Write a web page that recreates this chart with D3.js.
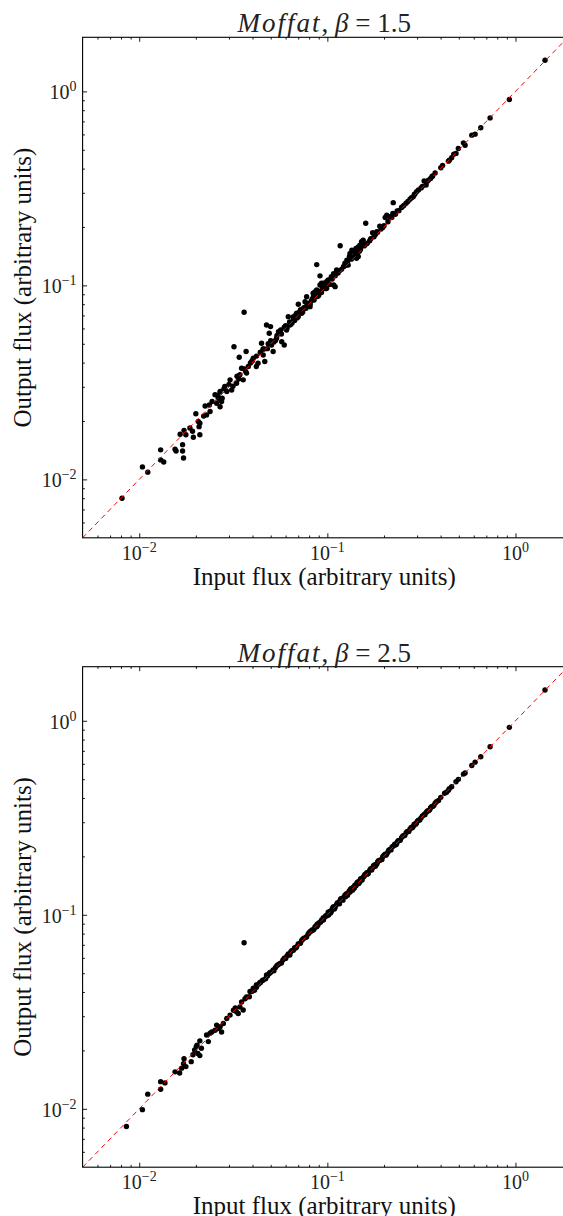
<!DOCTYPE html>
<html><head><meta charset="utf-8">
<script src="https://cdn.jsdelivr.net/npm/d3@7"></script>
<style>html,body{margin:0;padding:0;background:#fff;overflow:hidden}</style>
</head><body>
<svg id="c" width="563" height="1216"></svg>
<script>
// ---------------- DATA ----------------
const titleBetas = ["1.5", "2.5"];
const xLabel = "Input flux (arbitrary units)";
const yLabel = "Output flux (arbitrary units)";
const axisDomain = [0.005, 1.9];
const majorTickExponents = [-2, -1, 0];

// [input flux, output flux]  — Moffat beta = 1.5
const pointsBeta15 = [
  [0.0081,0.0080],[0.0104,0.0116],[0.0111,0.0109],[0.0130,0.0142],[0.0130,0.0126],[0.0135,0.0123],
  [0.0155,0.0143],[0.0157,0.0140],[0.0165,0.0171],[0.0170,0.0151],[0.0170,0.0140],[0.0172,0.0129],
  [0.0173,0.0179],[0.0177,0.0170],[0.0186,0.0184],[0.0192,0.0177],[0.0194,0.0165],[0.0200,0.0218],
  [0.0206,0.0199],[0.0210,0.0195],[0.0210,0.0170],[0.0208,0.0187],[0.0224,0.0239],[0.0228,0.0215],
  [0.0236,0.0242],[0.0238,0.0224],[0.0253,0.0273],[0.0258,0.0247],[0.0263,0.0262],[0.0269,0.0237],
  [0.0274,0.0252],[0.0269,0.0284],[0.0285,0.0301],[0.0292,0.0284],[0.0304,0.0326],[0.0310,0.0289],
  [0.0319,0.0483],[0.0329,0.0313],[0.0340,0.0426],[0.0343,0.0346],[0.0350,0.0374],[0.0361,0.0727],
  [0.0370,0.0456],[0.0357,0.0326],[0.0372,0.0353],[0.0380,0.0382],[0.0396,0.0405],[0.0404,0.0421],
  [0.0419,0.0382],[0.0428,0.0397],[0.0447,0.0503],[0.0456,0.0438],[0.0465,0.0405],[0.0475,0.0625],
  [0.0499,0.0613],[0.0491,0.0567],[0.0505,0.0493],[0.0515,0.0456],[0.0537,0.0534],[0.0560,0.0567],
  [0.0572,0.0513],[0.0590,0.0493],[0.0620,0.0690],[0.0632,0.0625],[0.0607,0.0589],[0.0660,0.0663],
  [0.0687,0.0718],[0.0701,0.0799],[0.0730,0.0747],[0.0761,0.0824],[0.0776,0.0875],[0.0809,0.0777],
  [0.0842,0.0911],[0.0878,0.0947],[0.0914,0.1005],[0.0953,0.1025],[0.0992,0.0966],
  [0.0220,0.0212],[0.0244,0.0252],[0.0262,0.0272],[0.0276,0.0262],[0.0282,0.0293],[0.0300,0.0309],
  [0.0315,0.0302],[0.0331,0.0340],[0.0338,0.0329],[0.0362,0.0371],[0.0368,0.0360],[0.0390,0.0398],
  [0.0400,0.0410],[0.0420,0.0432],[0.0440,0.0452],[0.0460,0.0470],[0.0480,0.0472],[0.0500,0.0518],
  [0.0520,0.0510],[0.0540,0.0552],[0.0550,0.0578],[0.0570,0.0562],[0.0590,0.0608],[0.0610,0.0602],
  [0.0630,0.0648],[0.0650,0.0641],[0.0670,0.0660],[0.0680,0.0706],[0.0700,0.0690],[0.0710,0.0728],
  [0.0730,0.0718],[0.0750,0.0768],[0.0770,0.0762],[0.0790,0.0808],[0.0810,0.0800],[0.0830,0.0848],
  [0.0850,0.0840],[0.0870,0.0888],[0.0890,0.0880],[0.0910,0.0928],[0.0930,0.0920],[0.0960,0.0972],
  [0.0980,0.0962],[0.1000,0.1018],[0.1030,0.1012],[0.1060,0.1078],[0.1140,0.1158],[0.1190,0.1210],
  [0.1250,0.1268],[0.1290,0.1272],[0.1340,0.1365],[0.1400,0.1418],[0.1440,0.1460],[0.1480,0.1498],
  [0.1570,0.1598],[0.1630,0.1648],[0.1680,0.1700],[0.1850,0.1878],[0.1930,0.1950],[0.2000,0.2028],
  [0.2100,0.2128],[0.2300,0.2328],[0.2400,0.2428],[0.2550,0.2580],[0.2680,0.2708],[0.2800,0.2830],
  [0.3150,0.3180],[0.3400,0.3440],
  [0.0455,0.0470],[0.0485,0.0500],[0.0530,0.0520],[0.0565,0.0590],[0.0600,0.0620],[0.0640,0.0630],
  [0.0660,0.0690],[0.0690,0.0680],[0.0720,0.0750],[0.0740,0.0730],[0.0780,0.0800],[0.0820,0.0830],
  [0.0860,0.0880],[0.0900,0.0890],[0.0940,0.0960],[0.0970,0.1000],[0.1050,0.1090],[0.1100,0.1120],
  [0.1160,0.1190],[0.1220,0.1250],[0.1280,0.1310],[0.1360,0.1390],[0.1420,0.1450],[0.1500,0.1530],
  [0.1600,0.1630],[0.1700,0.1740],[0.1800,0.1830],[0.1950,0.1990],[0.2200,0.2240],[0.2500,0.2540],
  [0.2900,0.2940],[0.3200,0.3240],[0.3600,0.3640],[0.4100,0.4150],[0.4700,0.4740],
  [1.436,1.448],[0.928,0.908],[0.733,0.730],[0.654,0.649],[0.610,0.602],[0.586,0.595],[0.529,0.543],
  [0.540,0.528],[0.497,0.508],[0.483,0.479],[0.458,0.455],[0.445,0.442],[0.440,0.437],[0.401,0.404],
  [0.374,0.380],[0.363,0.366],[0.354,0.356],[0.345,0.349],[0.327,0.345],[0.335,0.329],[0.305,0.310],
  [0.298,0.304],[0.292,0.296],[0.286,0.286],[0.275,0.278],[0.262,0.265],[0.248,0.252],[0.235,0.242],
  [0.224,0.267],[0.223,0.235],[0.215,0.226],[0.203,0.224],[0.207,0.230],[0.197,0.199],[0.190,0.202],
  [0.183,0.189],[0.179,0.184],[0.174,0.187],[0.177,0.178],[0.160,0.209],[0.155,0.171],[0.152,0.168],
  [0.149,0.161],[0.146,0.158],[0.142,0.155],[0.138,0.149],[0.135,0.152],[0.132,0.146],[0.131,0.141],
  [0.127,0.135],[0.124,0.130],[0.122,0.125],[0.117,0.160],[0.146,0.141],[0.143,0.138],[0.112,0.120],
  [0.108,0.115],[0.105,0.111],[0.110,0.113],[0.0878,0.128],[0.0914,0.112],[0.0931,0.1025],
  [0.0950,0.0985],[0.0990,0.1045],[0.101,0.1066],[0.108,0.1005],[0.110,0.0985],[0.0862,0.0928],
  [0.0843,0.0911],[0.0878,0.0875],[0.0843,0.0875]
];

// [input flux, output flux]  — Moffat beta = 2.5
const pointsBeta25 = [
  [0.00855,0.0081],[0.0104,0.0099],[0.0111,0.0119],[0.0130,0.0138],[0.0137,0.0136],[0.0130,0.0126],
  [0.0155,0.0155],[0.0164,0.0153],[0.0168,0.0162],[0.0173,0.0181],[0.0172,0.0171],[0.0177,0.0165],
  [0.0189,0.0175],[0.0193,0.0190],[0.0197,0.0201],[0.0201,0.0209],[0.0205,0.0193],[0.0210,0.0188],
  [0.0203,0.0213],[0.0210,0.0224],[0.0214,0.0205],[0.0228,0.0240],[0.0233,0.0222],[0.0238,0.0245],
  [0.0243,0.0249],[0.0253,0.0254],[0.0258,0.0270],[0.0263,0.0259],[0.0274,0.0249],[0.0269,0.0265],
  [0.0280,0.0275],[0.0292,0.0292],[0.0304,0.0304],[0.0317,0.0322],[0.0324,0.0331],[0.0329,0.0316],
  [0.0336,0.0310],[0.0343,0.0335],[0.0357,0.0323],[0.0350,0.0355],[0.0365,0.0369],[0.0372,0.0377],
  [0.0361,0.0717],[0.0388,0.0402],[0.0404,0.0418],[0.0419,0.0435],[0.0437,0.0447],[0.0456,0.0461],
  [0.0475,0.0489],[0.0494,0.0503],[0.0515,0.0519],[0.0560,0.0562],[0.0580,0.0584],[0.0632,0.0620],
  [0.0687,0.0685],[0.0713,0.0712],[0.0776,0.0771],[0.0842,0.0834],[0.0878,0.0868],[0.0953,0.0939],
  [0.1015,0.0998],
  [0.0400,0.0405],[0.0420,0.0423],[0.0440,0.0446],[0.0480,0.0484],[0.0500,0.0506],[0.0530,0.0535],
  [0.0550,0.0554],[0.0590,0.0597],[0.0610,0.0614],[0.0650,0.0655],[0.0670,0.0676],[0.0700,0.0707],
  [0.0730,0.0737],[0.0750,0.0757],[0.0800,0.0808],[0.0820,0.0826],[0.0860,0.0868],[0.0900,0.0907],
  [0.0930,0.0938],[0.0980,0.0988],[0.0600,0.0596],[0.0640,0.0645],[0.0660,0.0657],[0.0720,0.0716],
  [0.0790,0.0795],[0.0830,0.0836],[0.0890,0.0884],[0.0960,0.0966],
  [0.0450,0.0457],[0.0470,0.0468],[0.0490,0.0496],[0.0520,0.0515],[0.0540,0.0548],[0.0570,0.0565],
  [0.0620,0.0628],[0.0680,0.0675],[0.0740,0.0748],[0.0770,0.0765],[0.0810,0.0818],[0.0850,0.0845],
  [0.0880,0.0892],[0.0920,0.0915],[0.0950,0.0962],[0.0990,0.0985],[0.0385,0.0378],[0.0395,0.0402],
  [0.0410,0.0408],[0.0430,0.0438],
  [0.101,0.103],[0.104,0.102],[0.107,0.109],[0.109,0.107],[0.113,0.115],[0.116,0.114],[0.118,0.121],
  [0.121,0.119],[0.126,0.128],[0.128,0.126],[0.133,0.136],[0.136,0.134],[0.139,0.137],[0.144,0.147],
  [0.147,0.145],[0.150,0.153],[0.153,0.151],[0.158,0.161],[0.162,0.165],[0.165,0.163],[0.170,0.173],
  [0.172,0.170],[0.176,0.179],[0.180,0.178],[0.187,0.190],[0.195,0.193],[0.200,0.203],[0.205,0.203],
  [0.212,0.215],[0.218,0.216],[0.221,0.224],[0.228,0.231],[0.233,0.231],[0.238,0.241],[0.244,0.242],
  [0.252,0.255],[0.258,0.256],[0.265,0.268],[0.271,0.269],[0.279,0.282],[0.283,0.281],[0.289,0.292],
  [0.295,0.293],[0.301,0.304],[0.310,0.308],[0.320,0.323],[0.330,0.328],[0.340,0.343],[0.350,0.348],
  [0.358,0.361],[0.368,0.366],[0.380,0.383],[0.390,0.388],[0.420,0.423],[0.430,0.428],
  [1.436,1.440],[0.928,0.925],[0.733,0.735],[0.654,0.652],[0.610,0.612],[0.586,0.588],[0.540,0.538],
  [0.529,0.531],[0.497,0.499],[0.483,0.485],[0.458,0.457],[0.445,0.447],[0.440,0.438],[0.401,0.403],
  [0.374,0.376],[0.363,0.362],[0.354,0.356],[0.345,0.344],[0.335,0.337],[0.327,0.329],[0.315,0.316],
  [0.305,0.307],[0.298,0.297],[0.292,0.294],[0.286,0.285],[0.275,0.277],[0.268,0.269],[0.262,0.264],
  [0.255,0.256],[0.248,0.250],[0.240,0.241],[0.235,0.237],[0.230,0.229],[0.224,0.226],[0.215,0.217],
  [0.210,0.211],[0.207,0.206],[0.203,0.205],[0.197,0.199],[0.193,0.192],[0.190,0.191],[0.185,0.187],
  [0.183,0.182],[0.179,0.181],[0.177,0.178],[0.174,0.175],[0.168,0.170],[0.163,0.162],[0.160,0.162],
  [0.157,0.158],[0.155,0.156],[0.152,0.154],[0.149,0.148],[0.146,0.148],[0.143,0.144],[0.142,0.141],
  [0.140,0.142],[0.138,0.139],[0.135,0.137],[0.132,0.131],[0.131,0.133],[0.129,0.130],[0.127,0.128],
  [0.125,0.124],[0.124,0.126],[0.122,0.123],[0.119,0.120],[0.117,0.119],[0.114,0.115],[0.112,0.113],
  [0.110,0.109],[0.108,0.110],[0.106,0.107],[0.105,0.104],[0.103,0.104]
];

// ---------------- LAYOUT ----------------
const FONT = '"Liberation Serif", "DejaVu Serif", serif';
const svg = d3.select("#c");
const left = 82.6, plotW = 485.3, plotH = 500.5;
const panels = [
  { top: 37.3, data: pointsBeta15, beta: titleBetas[0] },
  { top: 666.7, data: pointsBeta25, beta: titleBetas[1] }
];

const majorTicks = majorTickExponents.map(e => Math.pow(10, e));
const minorTicks = [];
for (let e = -3; e <= 0; e++) {
  for (let k = 2; k <= 9; k++) {
    const v = k * Math.pow(10, e);
    if (v > axisDomain[0] && v < axisDomain[1]) minorTicks.push(v);
  }
}
const supText = e => (e < 0 ? "\u2212" + Math.abs(e) : String(e));

panels.forEach((p, i) => {
  const x = d3.scaleLog().domain(axisDomain).range([left, left + plotW]);
  const y = d3.scaleLog().domain(axisDomain).range([p.top + plotH, p.top]);
  const bottom = p.top + plotH;
  const g = svg.append("g");

  const clipId = "clip" + i;
  svg.append("clipPath").attr("id", clipId)
    .append("rect").attr("x", left).attr("y", p.top).attr("width", plotW).attr("height", plotH);

  // points
  g.append("g").attr("clip-path", `url(#${clipId})`)
    .selectAll("circle").data(p.data).join("circle")
    .attr("cx", d => x(d[0])).attr("cy", d => y(d[1]))
    .attr("r", 2.7).attr("fill", "#000");

  // one-to-one dashed line
  const line = d3.line().x(d => x(d)).y(d => y(d));
  g.append("path").attr("clip-path", `url(#${clipId})`)
    .attr("d", line([axisDomain[0], 3]))
    .attr("fill", "none").attr("stroke", "#ff0000").attr("stroke-width", 1)
    .attr("stroke-dasharray", "5,4");

  // ticks (inward, all sides)
  const tickGroup = (axisGen, transform, vals, size) => {
    const a = g.append("g").attr("transform", transform)
      .call(axisGen.tickValues(vals).tickSize(-size).tickFormat(""));
    a.select(".domain").remove();
    a.selectAll("line").attr("stroke", "#000").attr("stroke-width", 0.9);
  };
  [[majorTicks, 4.5], [minorTicks, 2.3]].forEach(([vals, sz]) => {
    tickGroup(d3.axisBottom(x), `translate(0,${bottom})`, vals, sz);
    tickGroup(d3.axisTop(x), `translate(0,${p.top})`, vals, sz);
    tickGroup(d3.axisLeft(y), `translate(${left},0)`, vals, sz);
    tickGroup(d3.axisRight(y), `translate(${left + plotW},0)`, vals, sz);
  });

  // frame
  g.append("rect").attr("x", left).attr("y", p.top).attr("width", plotW).attr("height", plotH)
    .attr("fill", "none").attr("stroke", "#000").attr("stroke-width", 1.1);

  // x tick labels
  majorTickExponents.forEach(e => {
    const t = g.append("text").attr("x", x(Math.pow(10, e))).attr("y", bottom + 22)
      .attr("text-anchor", "middle").attr("font-family", FONT).attr("font-size", 20).attr("fill", "#222");
    t.append("tspan").text("10");
    t.append("tspan").attr("dy", -8).attr("font-size", 14).text(supText(e));
  });
  // y tick labels
  majorTickExponents.forEach(e => {
    const t = g.append("text").attr("x", left - 6).attr("y", y(Math.pow(10, e)) + 8)
      .attr("text-anchor", "end").attr("font-family", FONT).attr("font-size", 20).attr("fill", "#222");
    t.append("tspan").text("10");
    t.append("tspan").attr("dy", -8).attr("font-size", 14).text(supText(e));
  });

  // title
  const tt = g.append("text").attr("x", left + plotW / 2 - 1).attr("y", p.top - 5)
    .attr("text-anchor", "middle").attr("font-family", FONT).attr("font-size", 27).attr("fill", "#222");
  tt.append("tspan").attr("font-style", "italic").attr("letter-spacing", 2).text("Moffat");
  tt.append("tspan").text(", ");
  tt.append("tspan").attr("font-style", "italic").text("\u03B2");
  tt.append("tspan").text(" = " + p.beta);

  // axis labels
  g.append("text").attr("x", left + plotW / 2 - 1).attr("y", bottom + 47)
    .attr("text-anchor", "middle").attr("font-family", FONT).attr("font-size", 25).attr("fill", "#111")
    .text(xLabel);
  g.append("text").attr("transform", `translate(31,${p.top + plotH / 2}) rotate(-90)`)
    .attr("text-anchor", "middle").attr("font-family", FONT).attr("font-size", 25).attr("fill", "#111")
    .text(yLabel);
});
</script>
</body></html>
